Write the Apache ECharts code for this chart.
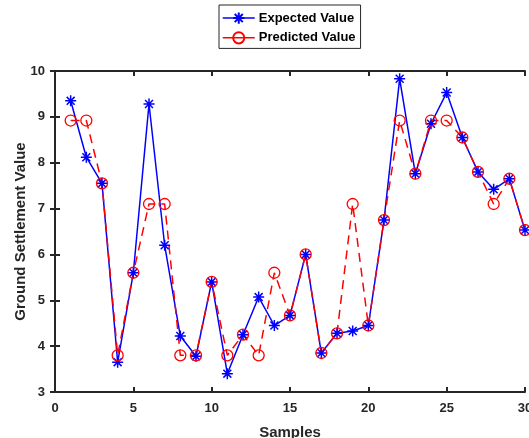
<!DOCTYPE html>
<html>
<head>
<meta charset="utf-8">
<script src="https://cdn.jsdelivr.net/npm/echarts@6/dist/echarts.min.js"></script>
<style>
  html, body { margin: 0; padding: 0; background: #fff; }
  #chart { width: 529px; height: 438px; }
</style>
</head>
<body>
<div id="chart"></div>
<script>
// sample numbers 1..30
const samples = [1, 2, 3, 4, 5, 6, 7, 8, 9, 10, 11, 12, 13, 14, 15,
  16, 17, 18, 19, 20, 21, 22, 23, 24, 25, 26, 27, 28, 29, 30];
const expectedValues = [9.35, 8.12, 7.55, 3.65, 5.6, 9.28, 6.2, 4.22, 3.78, 5.4,
  3.4, 4.25, 5.07, 4.45, 4.67, 6.0, 3.85, 4.28, 4.33, 4.45,
  6.75, 9.83, 7.76, 8.85, 9.53, 8.55, 7.8, 7.42, 7.65, 6.53];
const predictedValues = [8.92, 8.92, 7.55, 3.8, 5.6, 7.1, 7.1, 3.8, 3.8, 5.4,
  3.8, 4.25, 3.8, 5.6, 4.67, 6.0, 3.85, 4.28, 7.1, 4.45,
  6.75, 8.92, 7.76, 8.92, 8.92, 8.55, 7.8, 7.1, 7.65, 6.53];
const seriesNames = ['Expected Value', 'Predicted Value'];

const axisColor = '#262626';
const fontFamily = 'Liberation Sans, Arial, sans-serif';
const asterisk = 'path://M0,-5L0,5M-5,0L5,0M-3.6,-3.6L3.6,3.6M-3.6,3.6L3.6,-3.6';

const pairs = (ys) => samples.map((x, i) => [x, ys[i]]);

const baseAxis = {
  axisLine: { show: true, lineStyle: { color: axisColor, width: 2 } },
  axisTick: { show: true, inside: true, length: 5, lineStyle: { color: axisColor, width: 2 } },
  splitLine: { show: false }
};

const chart = echarts.init(document.getElementById('chart'));
chart.setOption({
  backgroundColor: '#fff',
  animation: false,
  textStyle: { fontFamily: fontFamily },
  legend: {
    data: seriesNames,
    orient: 'vertical',
    left: 219,
    top: 5,
    itemWidth: 32,
    itemHeight: 14,
    itemGap: 5,
    padding: [5, 5, 4, 3],
    borderColor: axisColor,
    borderWidth: 1,
    lineStyle: { type: 'solid', width: 1.5 },
    textStyle: { fontSize: 13, fontWeight: 'bold', color: '#000', fontFamily: fontFamily, padding: [0, 0, 0, -1] }
  },
  grid: { left: 55, right: 4, top: 71, bottom: 46, outerBoundsMode: 'none' },
  xAxis: [
    Object.assign({}, baseAxis, {
      type: 'value', min: 0, max: 30, interval: 5,
      name: 'Samples', nameLocation: 'middle', nameGap: 33, nameMoveOverlap: false,
      nameTextStyle: { fontSize: 15, fontWeight: 'bold', color: '#262626' },
      axisLabel: { fontSize: 13, fontWeight: 'bold', color: '#262626', margin: 10 }
    }),
    Object.assign({}, baseAxis, {
      type: 'value', min: 0, max: 30, interval: 5, position: 'top',
      axisLabel: { show: false }
    })
  ],
  yAxis: [
    Object.assign({}, baseAxis, {
      type: 'value', min: 3, max: 10, interval: 1,
      name: 'Ground Settlement Value', nameLocation: 'middle', nameGap: 27, nameMoveOverlap: false,
      nameTextStyle: { fontSize: 15, fontWeight: 'bold', color: '#262626' },
      axisLabel: { fontSize: 13, fontWeight: 'bold', color: '#262626', margin: 10 }
    }),
    Object.assign({}, baseAxis, {
      type: 'value', min: 3, max: 10, interval: 1, position: 'right',
      axisLabel: { show: false }
    })
  ],
  series: [
    {
      name: seriesNames[0],
      type: 'line',
      data: pairs(expectedValues),
      symbol: asterisk,
      symbolSize: 11,
      showAllSymbol: true,
      color: '#0000ff',
      lineStyle: { color: '#0000ff', width: 1.5 },
      itemStyle: { color: 'none', borderColor: '#0000ff', borderWidth: 1.5 }
    },
    {
      name: seriesNames[1],
      type: 'line',
      data: pairs(predictedValues),
      symbol: 'circle',
      symbolSize: 11,
      showAllSymbol: true,
      color: '#ff0000',
      lineStyle: { color: '#ff0000', width: 1.5, type: [9, 6] },
      itemStyle: { color: 'rgba(0,0,0,0)', borderColor: '#ff0000', borderWidth: 1.3 }
    }
  ]
});
</script>
</body>
</html>
